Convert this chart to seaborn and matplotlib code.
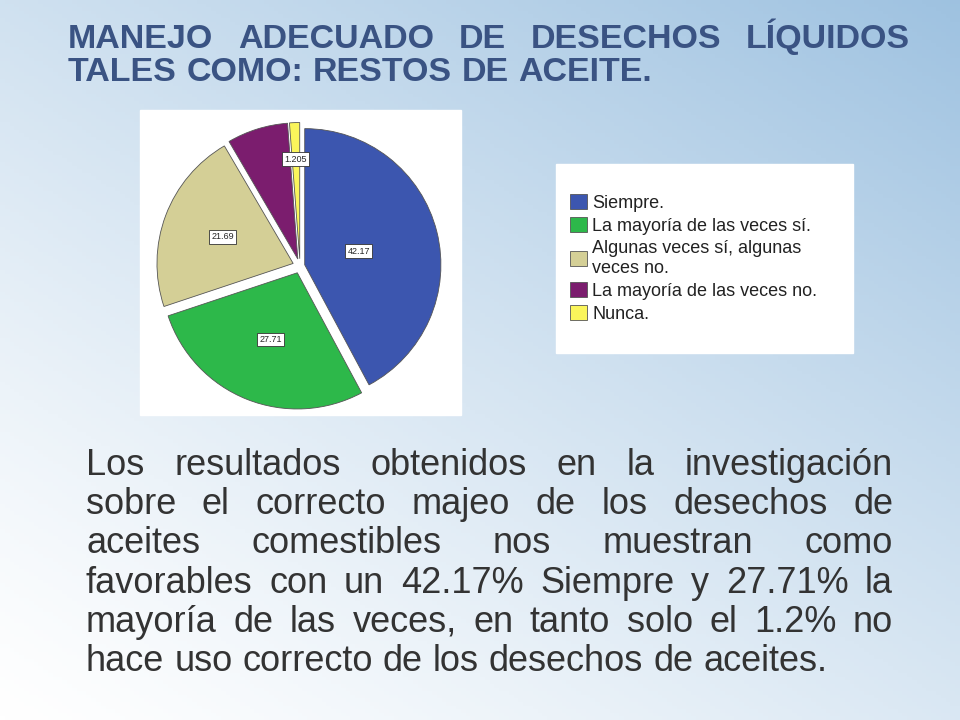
import numpy as np
import seaborn as sns
import matplotlib.pyplot as plt
from matplotlib.patches import Rectangle

sns.set_theme(style="white", font="Liberation Sans")

categories = ["Siempre.", "La mayoría de las veces sí.", "Algunas veces sí, algunas\nveces no.",
              "La mayoría de las veces no.", "Nunca."]
values = [42.17, 27.71, 21.69, 7.225, 1.205]
slice_labels = ["42.17", "27.71", "21.69", "", "1.205"]
colors = sns.color_palette(["#3C56AF", "#2DB84A", "#D4CF96", "#7B1D6E", "#FAF55B"])

title_lines = ["MANEJO ADECUADO DE DESECHOS LÍQUIDOS", "TALES COMO: RESTOS DE ACEITE."]
body_lines = ["Los resultados obtenidos en la investigación",
              "sobre el correcto majeo de los desechos de",
              "aceites comestibles nos muestran como",
              "favorables con un 42.17% Siempre y 27.71% la",
              "mayoría de las veces, en tanto solo el 1.2% no",
              "hace uso correcto de los desechos de aceites."]

W, H = 960, 720
fig = plt.figure(figsize=(9.6, 7.2), dpi=100)

# background gradient
bg = fig.add_axes([0, 0, 1, 1])
yy, xx = np.mgrid[0:1:200j, 0:1:200j]
t = np.clip(0.55 * (1 - yy) + 0.45 * xx, 0, 1)  # top-right darker
top = np.array([0.62, 0.76, 0.88])
bot = np.array([1.0, 1.0, 1.0])
img = bot + (top - bot) * t[..., None] ** 1.2
bg.imshow(img, extent=[0, W, H, 0], aspect="auto")
bg.set_xlim(0, W)
bg.set_ylim(H, 0)
bg.axis("off")

renderer = fig.canvas.get_renderer()


def justify(line, x0, x1, y, justify_line=True, **kw):
    words = line.split(" ")
    texts = [bg.text(0, y, w, va="baseline", **kw) for w in words]
    widths = [tx.get_window_extent(renderer).width for tx in texts]
    probe = bg.text(0, y, "a a", alpha=0, **kw)
    probe_a = bg.text(0, y, "a", alpha=0, **kw)
    sw = probe.get_window_extent(renderer).width - 2 * probe_a.get_window_extent(renderer).width
    probe.remove()
    probe_a.remove()
    gap = (x1 - x0 - sum(widths)) / (len(words) - 1) if justify_line and len(words) > 1 else sw
    x = x0
    for tx, w in zip(texts, widths):
        tx.set_x(x)
        x += w + gap


tkw = dict(fontsize=24.5, fontweight="bold", color="#3A5383")
justify(title_lines[0], 68, 910, 48, **tkw)
justify(title_lines[1], 68, 910, 81, justify_line=False, **tkw)

bkw = dict(fontsize=26, color="#333333")
for i, line in enumerate(body_lines):
    justify(line, 86, 893, 475 + i * 39.2, justify_line=(i < len(body_lines) - 1), **bkw)

# white panels
bg.add_patch(Rectangle((140, 110), 321, 305, color="white"))
bg.add_patch(Rectangle((556, 164), 297, 189, color="white"))

# pie
pax = fig.add_axes([148 / W, 1 - 418 / H, 304 / W, 304 / H])
wedges, _ = pax.pie(values, colors=colors, startangle=90, counterclock=False, radius=1.12,
                    explode=[0.04, 0.06, 0.06, 0.06, 0.06],
                    wedgeprops=dict(edgecolor="#555555", linewidth=0.6))
cum = 0
for v, lab, r in zip(values, slice_labels, [0.5, 0.65, 0.68, 0.6, 0.88]):
    ang = np.deg2rad(90 - (cum + v / 2) * 3.6)
    cum += v
    if lab:
        pax.text(r * np.cos(ang), r * np.sin(ang), lab, ha="center", va="center", fontsize=6.5,
                 bbox=dict(facecolor="white", edgecolor="#333333", boxstyle="square,pad=0.25", linewidth=0.6))
pax.set_xlim(-1.25, 1.25)
pax.set_ylim(-1.25, 1.25)
pax.set_aspect("equal")

# legend
lax = fig.add_axes([556 / W, 1 - 353 / H, 297 / W, 189 / H])
lax.axis("off")
leg = lax.legend(wedges, categories, loc="center left", frameon=False, fontsize=13,
                 handlelength=0.9, handleheight=0.9, handletextpad=0.3, labelspacing=0.3,
                 borderaxespad=0.4)
for txt in leg.get_texts():
    txt.set_color("#222222")

fig.savefig("out.png", dpi=100)
